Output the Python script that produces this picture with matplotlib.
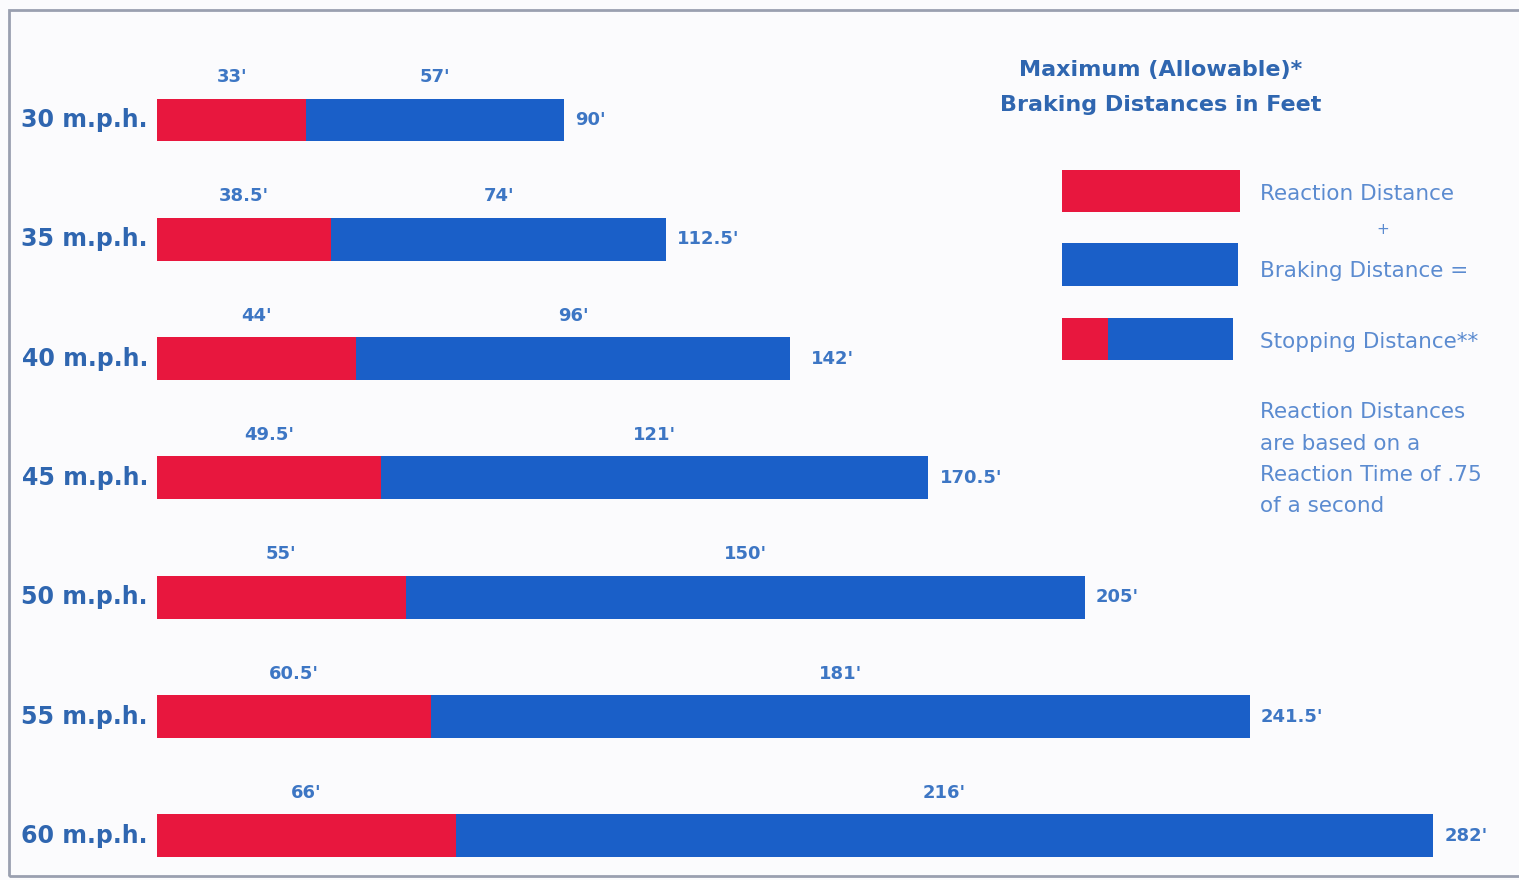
import matplotlib.pyplot as plt
from matplotlib.patches import Rectangle

# --- data ---
speeds = ["30 m.p.h.", "35 m.p.h.", "40 m.p.h.", "45 m.p.h.", "50 m.p.h.", "55 m.p.h.", "60 m.p.h."]
reaction = [33, 38.5, 44, 49.5, 55, 60.5, 66]
braking = [57, 74, 96, 121, 150, 181, 216]
stopping = [90, 112.5, 142, 170.5, 205, 241.5, 282]

RED = "#e8173e"
BLUE = "#1a5fc8"
LABEL = "#2f66b0"
NUM = "#3d76c4"
NOTE = "#5b8bd0"

plt.rcParams['font.family'] = ['DejaVu Sans']

W, H = 1519, 880
fig = plt.figure(figsize=(W / 100, H / 100), dpi=100)
fig.patch.set_facecolor("#fbfbfd")

# axes spans x pixels 157..1519, full height; y units = bar rows
ax = fig.add_axes([157 / W, 0, 1 - 157 / W, 1])
ax.set_xlim(0, 301)
step = 119.3
ax.set_ylim((H - 120) / step, -120 / step)
ax.axis("off")

def fmt(v):
    return f"{v:g}'"

y = list(range(len(speeds)))
ax.barh(y, reaction, height=0.36, color=RED, linewidth=0)
ax.barh(y, braking, left=reaction, height=0.36, color=BLUE, linewidth=0)

for i in y:
    r, b, s = reaction[i], braking[i], stopping[i]
    ax.text(r / 2, i - 0.36, fmt(r), ha="center", va="center",
            fontsize=13, fontweight="bold", color=NUM)
    ax.text(r + b / 2, i - 0.36, fmt(b), ha="center", va="center",
            fontsize=13, fontweight="bold", color=NUM)
    ax.text(s + 2.5, i, fmt(s), ha="left", va="center",
            fontsize=13, fontweight="bold", color=NUM)
    ax.text(-2, i, speeds[i], ha="right", va="center",
            fontsize=17, fontweight="bold", color=LABEL)

# --- legend / notes (figure pixel coords, y from top) ---
def fx(px):
    return px / W

def fy(py):
    return 1 - py / H

fig.text(fx(1161), fy(70), "Maximum (Allowable)*", ha="center", va="center",
         fontsize=16, fontweight="bold", color=LABEL)
fig.text(fx(1161), fy(105), "Braking Distances in Feet", ha="center", va="center",
         fontsize=16, fontweight="bold", color=LABEL)

def swatch(x0, x1, y0, y1, color):
    fig.add_artist(Rectangle((fx(x0), fy(y1)), fx(x1) - fx(x0), fy(y0) - fy(y1),
                             transform=fig.transFigure, color=color, lw=0))

swatch(1062, 1240, 170, 212, RED)
swatch(1062, 1238, 243, 286, BLUE)
swatch(1062, 1108, 318, 360, RED)
swatch(1108, 1233, 318, 360, BLUE)

note_kw = dict(ha="left", va="center", fontsize=15.5, color=NOTE)
fig.text(fx(1260), fy(194), "Reaction Distance", **note_kw)
fig.text(fx(1383), fy(229), "+", ha="center", va="center", fontsize=11, color=NOTE)
fig.text(fx(1260), fy(271), "Braking Distance =", **note_kw)
fig.text(fx(1260), fy(342), "Stopping Distance**", **note_kw)
for k, line in enumerate(["Reaction Distances", "are based on a",
                          "Reaction Time of .75", "of a second"]):
    fig.text(fx(1260), fy(412 + 31.5 * k), line, **note_kw)

# outer frame
fig.add_artist(Rectangle((fx(9), fy(876)), fx(1525) - fx(9), fy(10) - fy(876),
                         transform=fig.transFigure, fill=False,
                         edgecolor="#9aa0b0", lw=2))

fig.savefig("out.png", dpi=100, facecolor=fig.get_facecolor())
